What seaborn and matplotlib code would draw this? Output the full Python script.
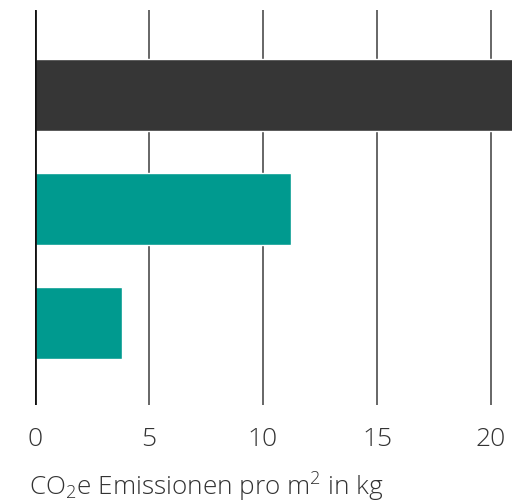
import matplotlib
matplotlib.use("Agg")
import matplotlib.pyplot as plt
import seaborn as sns
import pandas as pd

categories = ["A", "B", "C"]
values = [21.5, 11.23, 3.82]
colors = ["#363636", "#009a8f", "#009a8f"]
ticks = [0, 5, 10, 15, 20]
xlabel = "CO$_2$e Emissionen pro m$^2$ in kg"

sns.set_theme(style="white")
FONT = "Open Sans"
plt.rcParams["font.family"] = [FONT, "DejaVu Sans"]
plt.rcParams["font.weight"] = "light"
plt.rcParams["mathtext.fontset"] = "custom"
plt.rcParams["mathtext.rm"] = FONT + ":light"
plt.rcParams["mathtext.it"] = FONT + ":light"

df = pd.DataFrame({"cat": categories, "val": values})

fig = plt.figure(figsize=(5.12, 5.04), dpi=100)
ax = fig.add_axes([35 / 512, (504 - 405) / 504, (512 - 35) / 512, 395 / 504])
sns.barplot(data=df, y="cat", x="val", hue="cat", palette=colors, orient="h",
            width=0.63, ax=ax, legend=False, saturation=1)

ax.set_xlim(0, 20.92)
ax.set_ylim(2.72, -0.746)
ax.set_xticks(ticks)
ax.set_xticklabels([str(t) for t in ticks], fontsize=19, color="#333333",
                   fontweight="light")
ax.tick_params(axis="x", length=0, pad=16)
ax.set_yticks([])
ax.set_ylabel("")
ax.set_xlabel("")
for s in ax.spines.values():
    s.set_visible(False)
ax.set_axisbelow(True)
for t in ticks[1:]:
    ax.axvline(t, color="#666666", lw=1.4, zorder=0)
ax.axvline(0, color="#111111", lw=2.0, zorder=5)

fig.text(29 / 512, (504 - 487) / 504, xlabel, fontsize=18.8, color="#333333",
         va="center", ha="left", fontweight="light")

fig.savefig("out.png", dpi=100)
